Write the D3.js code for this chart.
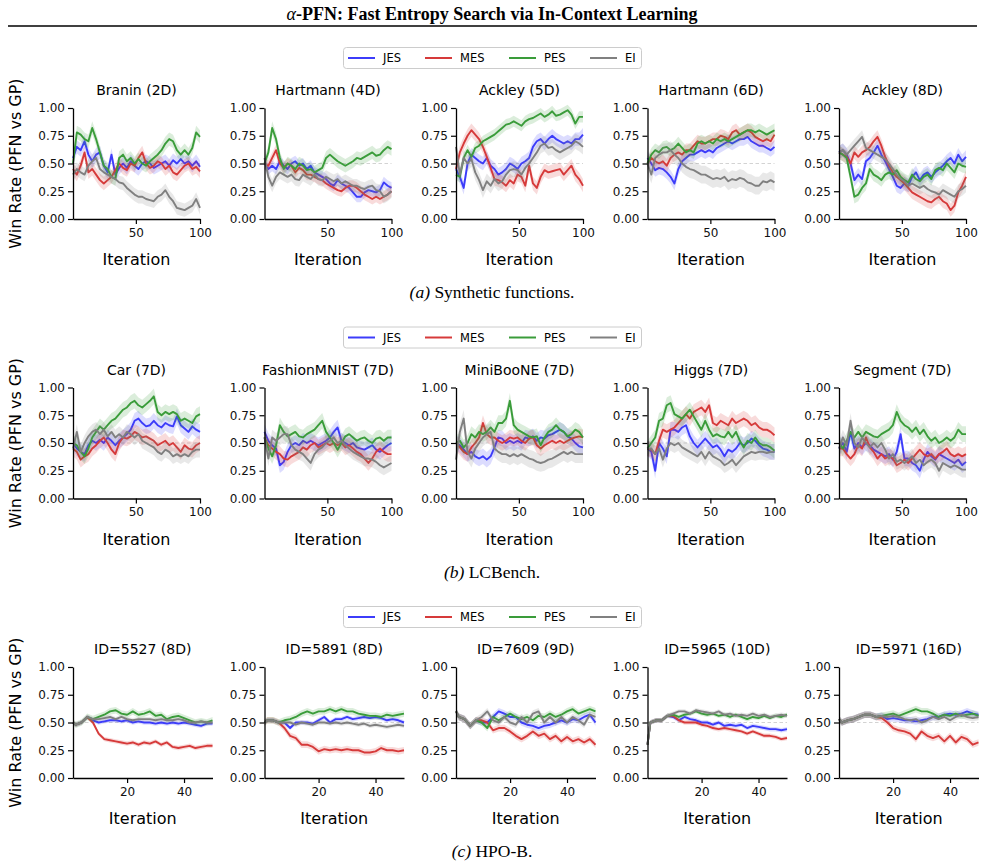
<!DOCTYPE html>
<html>
<head>
<meta charset="utf-8">
<script src="https://cdn.jsdelivr.net/npm/d3@7"></script>
<style>
  body { margin: 0; background: #fff; }
</style>
</head>
<body>
<script>
// iterations at which the win rates were read (every 3rd step for the 100-step runs)
const iters100 = d3.range(1, 101, 3);
const itersHpo = [1].concat(d3.range(2, 51, 2));

const methods = ["JES", "MES", "PES", "EI"];
const methodColors = ["#3c3cfa", "#d63a3a", "#3a9c3a", "#808080"];

const yTicks = [0, 25, 50, 75, 100]; // win rate in percent

// ---- (a) Synthetic functions: win rate (%), rows = JES, MES, PES, EI ----
const synthTitles = ["Branin (2D)", "Hartmann (4D)", "Ackley (5D)", "Hartmann (6D)", "Ackley (8D)"];
const branin = [
  [55,65,62,70,58,52,58,60,48,42,58,40,46,50,46,52,48,45,50,52,50,46,48,50,52,48,53,50,54,50,52,48,52,47],
  [45,40,48,60,42,45,40,35,32,35,38,44,50,46,44,50,48,55,60,50,46,48,52,50,45,48,42,40,44,48,50,45,47,43],
  [50,78,76,72,70,82,72,60,48,45,38,36,55,58,52,55,50,54,50,48,52,55,58,62,68,72,70,62,58,62,58,64,78,74],
  [40,45,42,40,48,52,55,45,42,40,38,36,33,32,28,25,22,20,20,18,17,16,20,22,26,20,16,10,9,8,10,12,18,10]
];
const hartmann4 = [
  [50,45,48,45,52,48,45,50,52,48,50,45,48,42,40,38,36,32,30,35,32,30,28,24,20,20,24,26,25,24,26,33,30,28],
  [50,48,55,62,50,46,50,48,42,46,44,40,40,38,36,35,32,30,28,26,25,28,30,30,28,25,22,20,18,20,18,20,22,25],
  [50,60,82,72,55,45,50,48,45,50,48,44,45,42,44,46,55,58,55,52,50,48,50,52,55,54,56,58,60,57,58,62,65,63],
  [55,38,30,38,42,40,38,40,36,35,40,38,36,40,36,35,38,36,34,36,32,34,32,30,30,28,27,29,30,26,25,20,22,25]
];
const ackley5 = [
  [45,38,28,50,58,55,52,50,55,48,45,40,42,45,50,48,45,50,52,55,65,70,72,68,72,75,72,70,68,70,68,72,72,76],
  [45,60,68,75,80,76,72,65,56,46,36,35,33,30,35,32,40,38,30,48,32,28,38,44,42,43,44,45,40,44,48,40,36,30],
  [40,38,55,62,56,64,66,70,72,74,76,79,82,85,86,88,86,84,88,90,91,93,95,92,94,97,93,94,96,98,94,86,92,92],
  [65,40,55,50,54,42,35,26,34,30,36,32,34,40,44,45,44,40,46,50,55,60,66,68,64,65,62,60,62,64,66,70,68,65]
];
const hartmann6 = [
  [55,50,44,46,45,42,38,32,45,52,55,58,58,60,62,60,62,60,64,66,68,70,68,70,72,72,74,70,68,66,66,64,62,65],
  [50,55,52,50,52,48,55,58,60,58,62,62,66,70,68,68,70,72,72,75,74,72,78,80,76,78,80,78,74,72,70,72,70,76],
  [50,58,62,60,64,65,62,64,68,64,60,62,60,68,70,68,70,68,72,70,72,70,72,74,76,78,80,80,78,80,78,76,78,80],
  [50,40,55,58,60,60,62,58,55,50,47,45,44,42,40,40,38,36,37,36,38,34,36,35,37,36,33,32,30,30,34,33,35,33]
];
const ackley8 = [
  [60,62,58,50,35,40,36,52,55,60,66,58,52,45,38,30,28,32,30,38,42,35,40,42,38,42,45,48,52,55,50,58,52,56],
  [60,58,56,50,60,56,60,62,65,70,74,66,56,48,42,38,35,32,28,24,22,20,18,16,15,18,20,16,14,8,12,24,30,38],
  [60,58,55,38,20,22,28,32,45,40,38,35,40,42,40,44,38,35,33,40,36,34,38,40,36,44,46,44,50,46,42,50,48,47],
  [60,62,58,62,66,70,74,64,62,60,58,56,54,50,45,40,36,34,30,32,30,28,30,27,25,24,22,26,24,22,20,25,27,30]
];
const synthPanels = [branin, hartmann4, ackley5, hartmann6, ackley8];
const synthBands = [[6,6,6,6], [5,5,6,6], [6,6,5,7], [6,6,6,8], [6,6,6,6]];

// ---- (b) LCBench ----
const lcTitles = ["Car (7D)", "FashionMNIST (7D)", "MiniBooNE (7D)", "Higgs (7D)", "Segment (7D)"];
const car = [
  [50,45,42,40,48,52,50,53,50,55,52,48,52,55,58,62,70,72,68,65,66,70,66,64,68,66,65,74,66,63,60,65,62,60],
  [45,42,35,38,40,45,48,52,55,50,44,40,50,55,54,56,60,58,55,56,54,52,48,50,52,48,50,46,42,48,45,44,48,50],
  [50,48,42,38,45,55,60,65,62,66,70,72,76,80,82,86,88,84,82,85,88,92,78,75,78,76,78,76,70,72,70,68,74,76],
  [45,60,42,50,56,60,62,58,62,56,60,55,58,55,60,58,55,58,52,50,48,46,42,40,44,42,38,40,38,40,38,42,44,44]
];
const fashion = [
  [60,52,48,45,30,33,42,48,50,48,52,50,52,50,48,50,52,55,60,64,52,50,48,50,46,45,44,46,48,44,42,45,48,50],
  [55,48,45,42,40,36,35,38,40,42,46,44,48,50,46,48,50,48,50,48,50,46,48,45,42,40,36,32,36,42,45,42,40,40],
  [55,45,38,48,66,60,56,58,60,56,55,58,60,62,66,70,60,55,50,44,50,56,58,55,52,54,55,52,50,54,55,52,55,55],
  [55,36,55,52,55,58,58,48,44,42,40,36,32,40,44,46,50,52,55,50,52,48,45,42,40,38,36,36,35,33,30,28,30,32]
];
const miniboone = [
  [50,48,44,40,42,38,36,38,35,38,46,55,54,50,52,50,52,50,55,54,56,52,55,54,57,58,60,62,60,56,54,50,47,46],
  [50,46,42,40,46,50,55,68,58,55,55,52,50,52,55,54,55,52,50,54,55,48,45,48,50,52,50,52,50,52,54,55,56,55],
  [50,52,46,50,58,55,60,58,60,64,60,68,68,72,88,66,62,60,58,56,55,56,48,55,60,62,66,62,60,56,58,62,60,55],
  [35,60,72,42,36,45,50,55,58,60,45,42,40,40,38,40,38,40,38,36,35,33,32,33,35,36,38,40,42,40,42,40,40,40]
];
const higgs = [
  [45,42,25,50,45,38,62,62,60,64,66,56,50,46,50,54,50,46,48,44,38,44,42,45,50,48,50,54,52,48,45,44,42,42],
  [45,44,40,52,62,60,62,64,68,72,76,72,78,80,82,78,84,68,66,70,68,66,72,68,70,72,70,66,68,64,62,62,60,57],
  [45,50,55,70,72,84,86,76,74,72,76,80,74,68,62,70,62,56,58,56,55,60,55,60,52,46,52,50,55,50,48,48,46,43],
  [45,45,40,45,35,45,50,48,50,46,44,42,40,38,42,36,42,38,36,34,30,32,35,30,34,38,40,42,41,42,42,41,42,42]
];
const segment = [
  [45,50,42,60,45,50,46,50,48,44,42,40,38,40,35,42,58,36,36,32,30,25,35,42,38,35,40,38,36,34,32,35,30,33],
  [45,45,40,36,40,48,45,55,46,42,36,40,36,38,36,30,32,35,32,36,40,44,40,38,40,36,40,42,45,40,38,40,38,40],
  [50,45,52,60,55,60,55,60,58,56,55,58,60,62,66,78,70,66,64,60,64,58,62,56,52,55,50,52,55,52,55,62,58,58],
  [45,55,48,70,50,46,55,50,46,50,46,50,44,36,40,33,35,32,35,38,32,35,30,33,35,32,25,32,30,28,30,28,26,26]
];
const lcPanels = [car, fashion, miniboone, higgs, segment];
const lcBands = [[7,7,7,7], [7,7,7,7], [7,7,7,8], [7,7,7,7], [7,7,7,7]];

// ---- (c) HPO-B ----
const hpoTitles = ["ID=5527 (8D)", "ID=5891 (8D)", "ID=7609 (9D)", "ID=5965 (10D)", "ID=5971 (16D)"];
const id5527 = [
  [50,48,50,55,52,50,51,52,52,51,52,50,51,50,50,49,50,49,50,49,50,49,48,47,49,49],
  [50,48,50,55,50,40,35,34,33,32,31,32,30,32,31,33,30,32,28,27,28,29,27,28,29,29],
  [50,48,50,55,53,55,57,60,61,58,57,60,57,58,60,56,57,53,55,56,54,52,50,51,50,52],
  [50,48,50,55,53,53,54,55,53,55,53,52,53,53,53,52,53,52,52,53,52,50,50,51,50,50]
];
const id5891 = [
  [50,52,52,50,50,45,50,50,50,49,52,55,50,53,53,55,53,54,55,54,55,54,52,53,52,50],
  [50,52,52,50,45,38,36,30,30,28,24,26,25,26,25,26,25,25,23,23,24,27,25,25,24,25],
  [50,52,52,50,52,53,55,58,60,58,60,60,62,60,62,60,60,58,57,56,56,55,57,56,57,58],
  [50,52,52,50,50,50,48,50,49,48,50,50,49,50,49,50,49,48,49,47,48,47,46,47,48,47]
];
const id7609 = [
  [60,55,53,47,52,50,50,55,60,58,55,55,50,48,47,45,47,48,50,52,50,53,52,55,57,50],
  [60,55,53,47,52,52,50,43,45,45,42,38,35,38,42,38,40,35,38,33,37,33,35,32,35,30],
  [60,55,53,47,52,50,45,55,52,55,58,55,53,55,52,56,55,58,55,57,60,62,58,60,62,60],
  [60,55,53,47,52,55,60,52,50,55,50,48,55,50,58,60,50,55,50,55,50,55,52,48,57,55]
];
const id5965 = [
  [30,50,52,52,56,55,52,55,53,52,50,50,48,50,47,48,47,48,45,47,46,45,44,44,43,44],
  [30,50,52,52,56,56,52,50,50,50,48,47,45,44,45,44,43,42,40,42,40,38,38,37,35,36],
  [30,50,52,52,56,57,55,57,58,60,58,57,58,56,57,55,57,55,53,55,54,56,54,56,55,57],
  [30,50,52,52,56,58,60,60,58,61,60,59,58,60,57,58,56,57,56,58,56,57,55,56,57,56]
];
const id5971 = [
  [53,50,52,53,55,57,57,55,56,53,54,53,52,52,51,52,53,55,55,57,58,57,58,60,58,57],
  [53,50,52,53,55,57,57,55,54,50,45,43,42,40,35,42,38,36,38,33,38,32,37,35,30,32],
  [53,50,52,53,55,57,57,55,56,57,58,56,58,60,62,60,60,58,55,57,56,58,56,57,58,56],
  [53,50,52,53,55,57,57,55,56,55,56,55,53,52,53,50,52,55,53,55,52,55,57,55,54,55]
];
const hpoPanels = [id5527, id5891, id7609, id5965, id5971];
const hpoBands = [[2,2,3,2], [2,3,3,2], [3,3,3,3], [2,2,2,2], [3,3,3,3]];

// ---- layout ----
const W = 985, H = 866;
const panelLeft = [73, 264.5, 456, 647.5, 839];
const panelH = 111;

const rows = [
  { top: 108, titles: synthTitles, panels: synthPanels, bands: synthBands, iters: iters100,
    xMax: 100, xTicks: [50, 100], w: 127, tag: "(a)", caption: " Synthetic functions." },
  { top: 387.5, titles: lcTitles, panels: lcPanels, bands: lcBands, iters: iters100,
    xMax: 100, xTicks: [50, 100], w: 127, tag: "(b)", caption: " LCBench." },
  { top: 667, titles: hpoTitles, panels: hpoPanels, bands: hpoBands, iters: itersHpo,
    xMax: 50, xTicks: [20, 40], w: 139.5, tag: "(c)", caption: " HPO-B." }
];

const svg = d3.select("body").append("svg")
  .attr("width", W)
  .attr("height", H)
  .style("font-family", "'DejaVu Sans', sans-serif");

// header
svg.append("text")
  .attr("x", 492).attr("y", 20)
  .attr("text-anchor", "middle")
  .style("font-family", "'Liberation Serif', 'Times New Roman', serif")
  .style("font-weight", "bold")
  .style("font-size", "18px")
  .call(t => {
    t.append("tspan").style("font-style", "italic").style("font-weight", "normal").text("α");
    t.append("tspan").text("-PFN: Fast Entropy Search via In-Context Learning");
  });
svg.append("line")
  .attr("x1", 8).attr("x2", 977)
  .attr("y1", 26).attr("y2", 26)
  .attr("stroke", "#000").attr("stroke-width", 1.6);

rows.forEach(row => {
  // legend box above each row
  const leg = svg.append("g").attr("transform", `translate(0,${row.top - 50})`);
  leg.append("rect")
    .attr("x", 343.5).attr("y", -10.5)
    .attr("width", 298).attr("height", 21)
    .attr("rx", 3)
    .attr("fill", "#fff").attr("stroke", "#cccccc").attr("stroke-width", 1);
  const legX = [348, 425, 509, 590];
  methods.forEach((m, k) => {
    leg.append("line")
      .attr("x1", legX[k]).attr("x2", legX[k] + 27)
      .attr("y1", 0).attr("y2", 0)
      .attr("stroke", methodColors[k]).attr("stroke-width", 2);
    leg.append("text")
      .attr("x", legX[k] + 35).attr("y", 4)
      .style("font-size", "11.5px")
      .text(m);
  });

  row.panels.forEach((series, p) => {
    const g = svg.append("g")
      .attr("transform", `translate(${panelLeft[p]},${row.top})`);

    const x = d3.scaleLinear().domain([1, row.xMax]).range([0, row.w]);
    const y = d3.scaleLinear().domain([0, 100]).range([panelH, 0]);

    // reference line at 0.5
    g.append("line")
      .attr("x1", 0).attr("x2", row.w)
      .attr("y1", y(50)).attr("y2", y(50))
      .attr("stroke", "#c8c8c8").attr("stroke-width", 0.8)
      .attr("stroke-dasharray", "3.5,2.5");

    series.forEach((vals, k) => {
      const pts = vals.map((v, i) => [row.iters[i], v]).filter(d => d[0] !== undefined);
      const b = row.bands[p][k];
      const area = d3.area()
        .x(d => x(d[0]))
        .y0(d => y(d[1] - b))
        .y1(d => y(d[1] + b));
      const line = d3.line()
        .x(d => x(d[0]))
        .y(d => y(d[1]));
      g.append("path")
        .attr("d", area(pts))
        .attr("fill", methodColors[k])
        .attr("fill-opacity", 0.18);
      g.append("path")
        .attr("d", line(pts))
        .attr("fill", "none")
        .attr("stroke", methodColors[k])
        .attr("stroke-width", 1.9)
        .attr("stroke-linejoin", "round");
    });

    // axes (left and bottom spines only)
    const yAxis = g.append("g")
      .call(d3.axisLeft(y).tickValues(yTicks)
        .tickFormat(d => (d / 100).toFixed(2))
        .tickSize(5).tickSizeOuter(0).tickPadding(3));
    const xAxis = g.append("g")
      .attr("transform", `translate(0,${panelH})`)
      .call(d3.axisBottom(x).tickValues(row.xTicks)
        .tickSize(5).tickSizeOuter(0).tickPadding(4));
    [yAxis, xAxis].forEach(a => {
      a.attr("font-family", "'DejaVu Sans', sans-serif").attr("font-size", 12);
      a.select(".domain").attr("stroke-width", 1.3);
      a.selectAll(".tick line").attr("stroke-width", 1.2);
      a.selectAll(".tick text").attr("fill", "#111");
    });

    g.append("text")
      .attr("x", row.w / 2).attr("y", -13)
      .attr("text-anchor", "middle")
      .style("font-size", "14px")
      .text(row.titles[p]);

    g.append("text")
      .attr("x", row.w / 2).attr("y", 157)
      .attr("text-anchor", "middle")
      .style("font-size", "16px")
      .text("Iteration");
  });

  // shared y label
  svg.append("text")
    .attr("transform", `translate(21,${row.top + panelH / 2}) rotate(-90)`)
    .attr("text-anchor", "middle")
    .style("font-size", "16px")
    .text("Win Rate (PFN vs GP)");

  // sub-caption
  svg.append("text")
    .attr("x", 492).attr("y", row.top + 190)
    .attr("text-anchor", "middle")
    .style("font-family", "'Liberation Serif', 'Times New Roman', serif")
    .style("font-size", "17.5px")
    .call(t => {
      t.append("tspan").style("font-style", "italic").text(row.tag);
      t.append("tspan").text(row.caption);
    });
});
</script>
</body>
</html>
